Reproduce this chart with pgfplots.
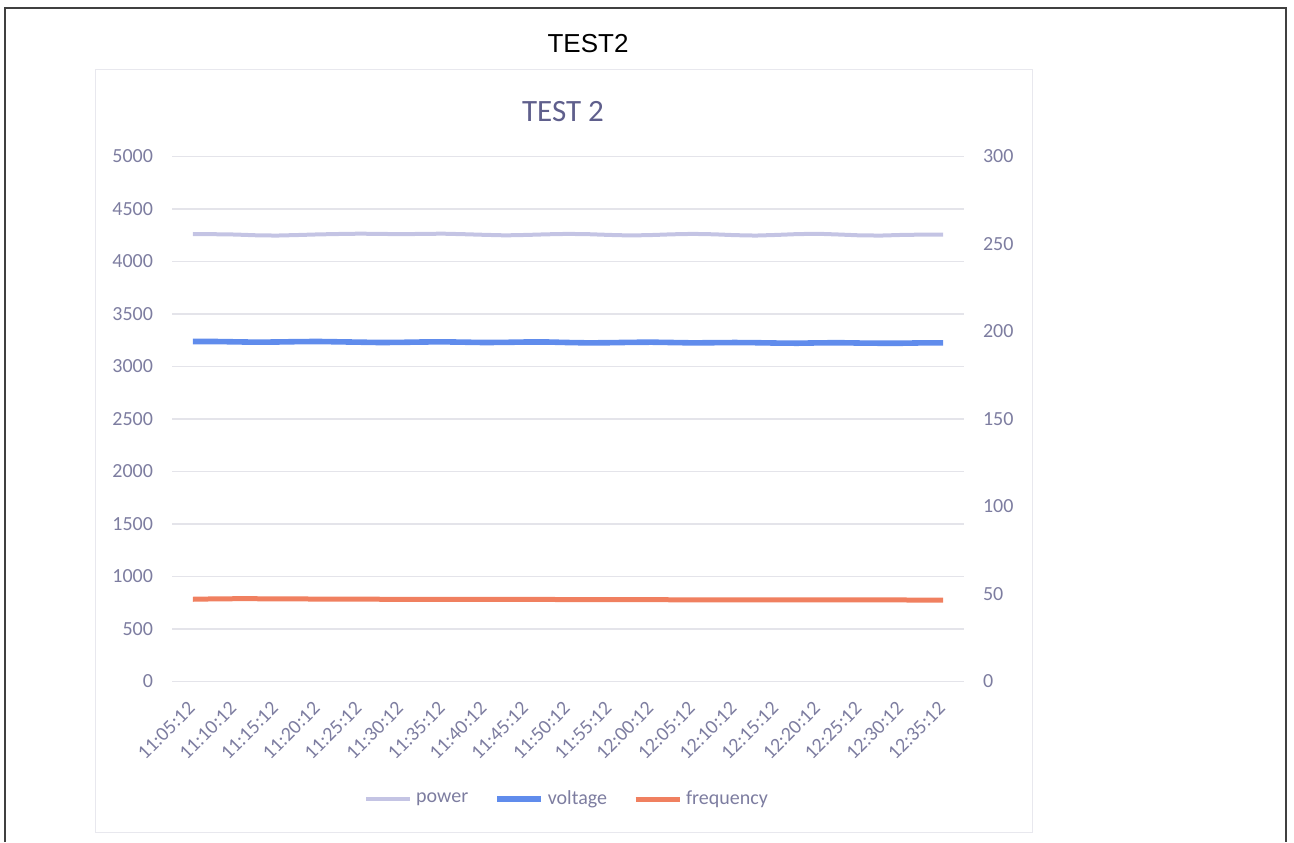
\documentclass[border=0pt]{standalone}
\usepackage{fontspec}
\setmainfont{Carlito}
\newfontfamily\arialfont{Liberation Sans}
\usepackage{pgfplots}
\usepackage{pgfplotstable}
\pgfplotsset{compat=1.18}
\definecolor{tickc}{RGB}{125,125,160}
\definecolor{titlec}{RGB}{95,95,140}
\definecolor{gridc}{RGB}{228,228,234}
\definecolor{framec}{RGB}{232,232,238}
\definecolor{powerc}{RGB}{196,196,228}
\definecolor{voltc}{RGB}{96,140,236}
\definecolor{freqc}{RGB}{240,128,96}

\pgfplotstableread{
x power
0 4262
0.5 4260
1 4257
1.5 4250
2 4247
2.5 4252
3 4258
3.5 4262
4 4265
4.5 4263
5 4260
5.5 4263
6 4265
6.5 4260
7 4254
7.5 4249
8 4253
8.5 4259
9 4263
9.5 4260
10 4253
10.5 4248
11 4252
11.5 4259
12 4263
12.5 4259
13 4251
13.5 4247
14 4253
14.5 4261
15 4264
15.5 4257
16 4249
16.5 4247
17 4253
17.5 4256
18 4257
}\powertab

\pgfplotstableread{
x voltage
0 194.3
0.5 194.3
1 194.1
1.5 193.9
2 194.0
2.5 194.2
3 194.3
3.5 194.1
4 193.9
4.5 193.7
5 193.8
5.5 194.0
6 194.1
6.5 193.9
7 193.7
7.5 193.8
8 194.0
8.5 194.0
9 193.7
9.5 193.5
10 193.6
10.5 193.8
11 193.9
11.5 193.7
12 193.5
12.5 193.6
13 193.7
13.5 193.6
14 193.4
14.5 193.3
15 193.5
15.5 193.6
16 193.4
16.5 193.3
17 193.3
17.5 193.5
18 193.5
}\volttab

\pgfplotstableread{
x frequency
0 47.0
0.5 47.2
1 47.3
1.5 47.3
2 47.2
2.5 47.2
3 47.1
3.5 47.1
4 47.1
4.5 47.0
5 47.0
5.5 47.0
6 47.0
6.5 46.9
7 46.9
7.5 46.9
8 46.9
8.5 46.9
9 46.8
9.5 46.8
10 46.8
10.5 46.8
11 46.8
11.5 46.7
12 46.7
12.5 46.7
13 46.7
13.5 46.7
14 46.7
14.5 46.6
15 46.6
15.5 46.6
16 46.6
16.5 46.6
17 46.6
17.5 46.5
18 46.5
}\freqtab

\pgfplotsset{
  common/.style={
    scale only axis, width=396pt, height=262.5pt,
    at={(86pt,80.25pt)}, anchor=south west,
    xmin=-0.5, xmax=18.5,
    axis line style={draw=none},
    tick style={draw=none},
    ticklabel style={font=\fontsize{10}{12}\selectfont, text=tickc},
    /pgf/number format/assume math mode=true,
    /pgf/number format/1000 sep={},
    clip=false,
  }
}

\begin{document}
\begin{tikzpicture}
\useasboundingbox (0,0) rectangle (647pt,421pt);
% outer page frame
\draw[black!75, line width=1.1pt] (2.5pt,0pt) -- (2.5pt,417pt) -- (643pt,417pt) -- (643pt,0pt);
% chart area
\draw[framec, line width=0.5pt] (47.5pt,5pt) rectangle (516pt,386pt);
\node[font=\arialfont\fontsize{13}{15}\selectfont, text=black] at (294pt,399pt) {TEST2};
\node[font=\fontsize{15.5}{18}\selectfont, text=titlec] at (281.5pt,365pt) {TEST 2};

\begin{axis}[common,
  ymin=0, ymax=5000, ytick={0,500,...,5000},
  ymajorgrids, major grid style={draw=gridc, line width=0.6pt},
  xtick={0,...,18},
  xticklabels={11:05:12,11:10:12,11:15:12,11:20:12,11:25:12,11:30:12,11:35:12,11:40:12,11:45:12,11:50:12,11:55:12,12:00:12,12:05:12,12:10:12,12:15:12,12:20:12,12:25:12,12:30:12,12:35:12},
  xticklabel style={rotate=45, anchor=east, xshift=-5.4pt, yshift=-7.9pt},
  yticklabel style={xshift=-6pt},
]
\addplot[draw=powerc, line width=2pt, no markers] table[x=x, y=power] {\powertab};
\end{axis}

\begin{axis}[common,
  axis y line*=right,
  ymin=0, ymax=300, ytick={0,50,...,300},
  xtick=\empty,
  yticklabel style={xshift=6pt},
  legend style={at={(0.5,-0.224)}, anchor=center, legend columns=3, draw=none, fill=none,
    font=\fontsize{10}{12}\selectfont, text=tickc,
    /tikz/every even column/.append style={column sep=11pt}},
  legend image code/.code={\draw[#1] (0pt,0pt) -- (22pt,0pt);},
  legend cell align=left,
]
\addlegendimage{draw=powerc, line width=2pt}
\addlegendentry{power}
\addplot[draw=voltc, line width=2.8pt, no markers] table[x=x, y=voltage] {\volttab};
\addlegendentry{voltage}
\addplot[draw=freqc, line width=2.5pt, no markers] table[x=x, y=frequency] {\freqtab};
\addlegendentry{frequency}
\end{axis}
\end{tikzpicture}
\end{document}
